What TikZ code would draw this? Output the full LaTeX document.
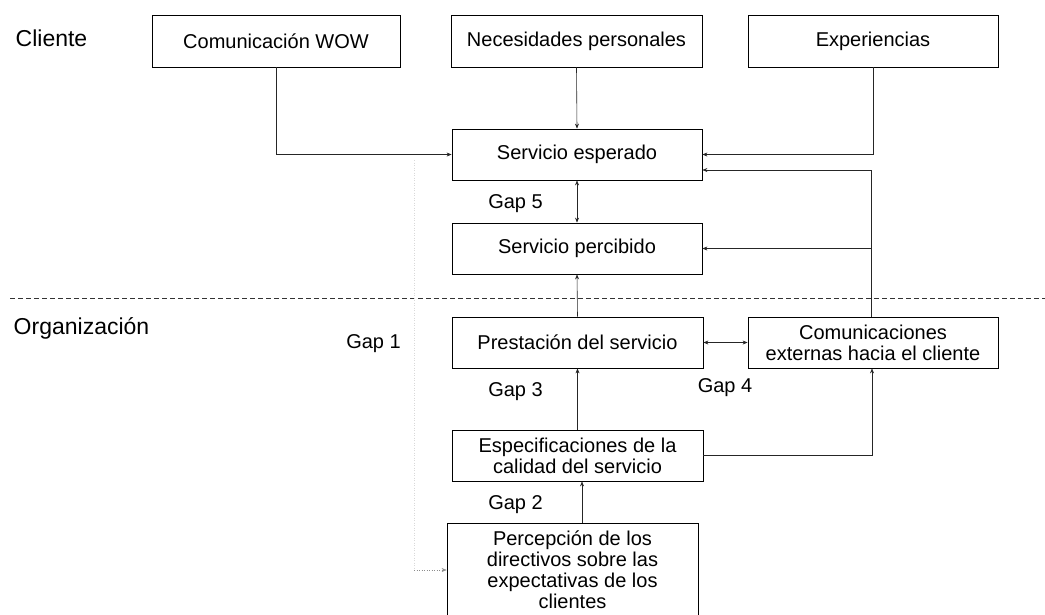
\documentclass[tikz,border=0pt]{standalone}
\usepackage{fontspec}
\setmainfont{Liberation Sans}
\usetikzlibrary{arrows.meta,calc}
\begin{document}
\begin{tikzpicture}[x=1pt,y=-1pt,
  box/.style={draw=black,line width=0.8pt,align=center,inner sep=0pt,
    font=\fontsize{20}{21}\selectfont},
  lbl/.style={font=\fontsize{20}{21}\selectfont,inner sep=0pt},
  side/.style={font=\fontsize{23}{25}\selectfont,inner sep=0pt},
  link/.style={draw=black!85,line width=0.6pt},
  arr/.style={link,-{Stealth[length=5pt,width=4pt]}},
  darr/.style={link,{Stealth[length=5pt,width=4pt]}-{Stealth[length=5pt,width=4pt]}},
  faint/.style={draw=black!15,line width=0.5pt,dotted},
  dotarr/.style={draw=black!45,line width=0.5pt,dotted,-{Stealth[length=5pt,width=4pt]}},
  sep/.style={draw=black!80,line width=0.6pt,dash pattern=on 5pt off 3pt}]
\useasboundingbox (0,0) rectangle (1045,614);

% customer side
\node[box,minimum width=248pt,minimum height=52pt] (wow) at (276,41) {Comunicación WOW};
\node[box,minimum width=251pt,minimum height=52pt] (nec) at (576.5,41) {Necesidades personales};
\node[box,minimum width=250pt,minimum height=52pt] (exp) at (873,41) {Experiencias};
\node[box,minimum width=250pt,minimum height=51pt] (esp) at (577,154.5) {Servicio esperado};
\node[box,minimum width=250pt,minimum height=51pt] (per) at (577,248.5) {Servicio percibido};

% organisation side
\node[box,minimum width=251pt,minimum height=51pt] (pres) at (577.5,342.5) {Prestación del servicio};
\node[box,minimum width=250pt,minimum height=51pt] (com) at (873,342.5) {Comunicaciones\\externas hacia el cliente};
\node[box,minimum width=251pt,minimum height=51pt] (espec) at (577.5,455.5) {Especificaciones de la\\calidad del servicio};
\node[box,minimum width=251pt,minimum height=94pt] (perc) at (572.5,570) {Percepción de los\\directivos sobre las\\expectativas de los\\clientes};

% section labels
\node[side] (cli) at (51.5,38) {Cliente};
\node[side] (org) at (81.5,328) {Organización};

% gap labels
\node[lbl] (g5) at (515.5,204) {Gap 5};
\node[lbl] (g1) at (373.5,344) {Gap 1};
\node[lbl] (g4) at (725,388) {Gap 4};
\node[lbl] (g3) at (515.5,392) {Gap 3};
\node[lbl] (g2) at (515.5,505) {Gap 2};

% helper points
\coordinate (dl) at (10,298);
\coordinate (dr) at (1045,298);
\coordinate (xp) at (582,0);
\coordinate (dtop) at (414,160);
\coordinate (dbend) at (414,570);
\coordinate (esp2) at ($(esp.east)+(0,15.5)$);

% boundary between customer and organisation
\draw[sep] (dl) -- (dr);

% connectors
\draw[arr] (wow.south) |- (esp.west);
\draw[arr] (nec.south) -- (esp.north);
\draw[arr] (exp.south) |- (esp.east);
\draw[arr] ([xshift=-2pt]com.north) |- (esp2);
\draw[arr] ([xshift=-2pt]com.north |- per.east) -- (per.east);
\draw[darr] (esp.south) -- (per.north);
\draw[arr] (pres.north) -- (per.south);
\draw[darr] (pres.east) -- (com.west);
\draw[arr] (espec.north) -- (pres.south);
\draw[arr] (espec.east) -| ([xshift=-1pt]com.south);
\draw[arr] (perc.north -| xp) -- (espec.south -| xp);
\draw[faint] (dtop) -- (dbend);
\draw[dotarr] (dbend) -- (perc.west);
\end{tikzpicture}
\end{document}
